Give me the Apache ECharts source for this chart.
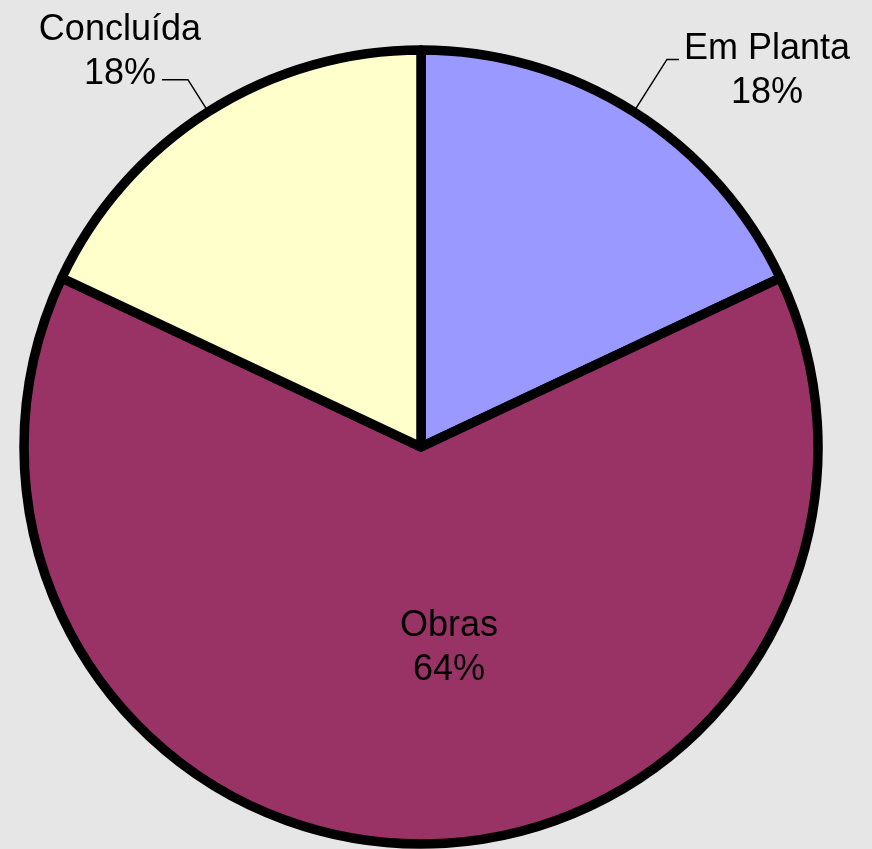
<!DOCTYPE html>
<html>
<head>
<meta charset="utf-8">
<script src="https://cdn.jsdelivr.net/npm/echarts@6/dist/echarts.min.js"></script>
<style>
html,body{margin:0;padding:0;background:#e6e6e6;}
#c{width:872px;height:849px;}
</style>
</head>
<body>
<div id="c"></div>
<script>
const categories = ['Em Planta', 'Obras', 'Concluída'];
const values = [18, 64, 18];
const colors = ['#9999ff', '#993366', '#ffffcc'];

const font = '"Liberation Sans", Arial, sans-serif';
const perItem = [
  {
    label: { position: 'outside', formatter: '{t|{b}}\n{t|{d}%}', padding: [24, 0, 0, 0],
      rich: { t: { width: 166, align: 'center', fontSize: 36, lineHeight: 44, color: '#000', fontFamily: font } } },
    labelLine: { show: true, length: 62, length2: 12 }
  },
  {
    label: { position: 'inside', formatter: '{b}\n{d}%', padding: [0, 0, 0, 56] },
    labelLine: { show: false }
  },
  {
    label: { position: 'outside', formatter: '{t|{b}}\n{t|{d}%}', padding: [0, 0, 56, 0],
      rich: { t: { width: 74, align: 'center', fontSize: 36, lineHeight: 44, color: '#000', fontFamily: font } } },
    labelLine: { show: true, length: 38, length2: 26 }
  }
];

const data = categories.map((name, i) => Object.assign({
  name: name,
  value: values[i],
  itemStyle: { color: colors[i] }
}, perItem[i]));

const chart = echarts.init(document.getElementById('c'), null, { renderer: 'canvas' });
chart.setOption({
  backgroundColor: '#e6e6e6',
  animation: false,
  series: [{
    type: 'pie',
    center: [421, 447],
    radius: [0, 397],
    startAngle: 90,
    clockwise: true,
    avoidLabelOverlap: false,
    itemStyle: { borderColor: '#000', borderWidth: 9.5 },
    label: { color: '#000', fontSize: 36, lineHeight: 44, fontFamily: font },
    labelLine: { lineStyle: { color: '#000', width: 1.5 } },
    emphasis: { disabled: true },
    data: data
  }]
});
</script>
</body>
</html>
